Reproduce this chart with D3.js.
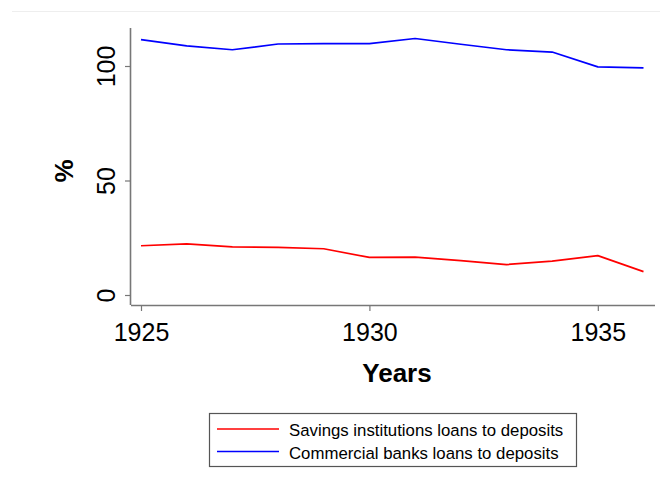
<!DOCTYPE html>
<html>
<head>
<meta charset="utf-8">
<script src="https://cdn.jsdelivr.net/npm/d3@7"></script>
<style>
  html, body { margin: 0; padding: 0; background: #fff; }
  svg { display: block; }
  text { font-family: "Liberation Sans", Arial, sans-serif; }
</style>
</head>
<body>
<svg id="chart" width="660" height="483"></svg>
<script>
// Loan-to-deposit ratios, 1925–1936
const years = [1925, 1926, 1927, 1928, 1929, 1930, 1931, 1932, 1933, 1934, 1935, 1936];
const savingsRatio = [21.5, 22.3, 21.0, 20.8, 20.2, 16.4, 16.5, 15.0, 13.3, 14.8, 17.2, 10.2];
const commercialRatio = [111.5, 108.8, 107.1, 109.6, 109.8, 109.8, 112.0, 109.5, 107.1, 106.1, 99.6, 99.2];
const xTicks = [1925, 1930, 1935];
const yTicks = [0, 50, 100];
const seriesNames = ["Savings institutions loans to deposits", "Commercial banks loans to deposits"];
const seriesColors = ["#ff0000", "#0000ff"];

const svg = d3.select("#chart");
const axisColor = "#777";
const tickFont = 25;

// faint outer graph-region edge
svg.append("line")
  .attr("x1", 12).attr("x2", 660).attr("y1", 11.5).attr("y2", 11.5)
  .attr("stroke", "#eeeeee").attr("stroke-width", 1);

const x = d3.scaleLinear().domain([1925, 1936]).range([141, 643.5]);
const y = d3.scaleLinear().domain([0, 100]).range([295, 66]);

const plotLeft = 131, plotRight = 655, plotTop = 28, plotBottom = 305;

// axes
const xAxis = svg.append("g").attr("transform", `translate(0,${plotBottom})`)
  .call(d3.axisBottom(x).tickValues(xTicks).tickFormat(d3.format("d")).tickSize(6).tickSizeOuter(0));
xAxis.select(".domain").remove();
xAxis.append("line").attr("x1", plotLeft).attr("x2", plotRight).attr("y1", 0.5).attr("y2", 0.5)
  .attr("stroke", axisColor).attr("stroke-width", 1.6);
xAxis.selectAll(".tick line").attr("stroke", axisColor).attr("stroke-width", 1.2);
xAxis.selectAll(".tick text").attr("fill", "#000").attr("font-size", tickFont)
  .attr("y", 35.5).attr("dy", null)
  .attr("font-family", "Liberation Sans, Arial, sans-serif");

const yAxis = svg.append("g").attr("transform", `translate(${plotLeft},0)`)
  .call(d3.axisLeft(y).tickValues(yTicks).tickSize(6).tickSizeOuter(0));
yAxis.select(".domain").remove();
yAxis.append("line").attr("x1", -0.5).attr("x2", -0.5).attr("y1", plotTop).attr("y2", plotBottom)
  .attr("stroke", axisColor).attr("stroke-width", 1.6);
yAxis.selectAll(".tick line").attr("stroke", axisColor).attr("stroke-width", 1.2);
yAxis.selectAll(".tick text")
  .attr("fill", "#000").attr("font-size", tickFont)
  .attr("font-family", "Liberation Sans, Arial, sans-serif")
  .attr("x", null).attr("dy", null)
  .attr("text-anchor", "middle")
  .attr("transform", "translate(-16,0) rotate(-90)");

// axis titles
svg.append("text").attr("x", 397).attr("y", 382).attr("text-anchor", "middle")
  .attr("font-size", 26).attr("font-weight", "bold").text("Years");
svg.append("text").attr("transform", "translate(73,171) rotate(-90)").attr("text-anchor", "middle")
  .attr("font-size", 26).attr("font-weight", "bold").text("%");

// series lines
const line = d3.line().x((d, i) => x(years[i])).y(d => y(d));
[savingsRatio, commercialRatio].forEach((vals, k) => {
  svg.append("path").datum(vals).attr("d", line)
    .attr("fill", "none").attr("stroke", seriesColors[k]).attr("stroke-width", 1.7)
    .attr("stroke-linejoin", "round");
});

// legend
const lg = svg.append("g");
lg.append("rect").attr("x", 209.5).attr("y", 413.5).attr("width", 367).attr("height", 53)
  .attr("fill", "#fff").attr("stroke", "#555").attr("stroke-width", 1.2);
seriesNames.forEach((name, i) => {
  const yy = 429 + i * 22.5;
  lg.append("line").attr("x1", 217).attr("x2", 279).attr("y1", yy).attr("y2", yy)
    .attr("stroke", seriesColors[i]).attr("stroke-width", 1.7);
  lg.append("text").attr("x", 289).attr("y", yy + 7).attr("font-size", 16.8).attr("fill", "#000").text(name);
});
</script>
</body>
</html>
